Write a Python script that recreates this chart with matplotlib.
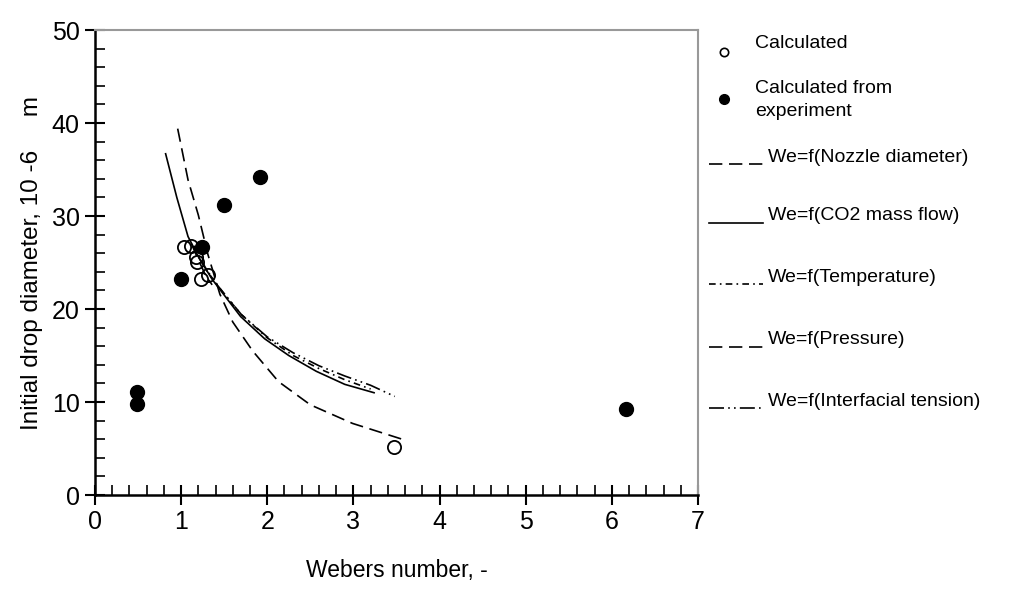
import matplotlib
matplotlib.use("Agg")
import matplotlib.pyplot as plt
from matplotlib.lines import Line2D
from matplotlib.ticker import MultipleLocator

plt.rcParams['font.family'] = ['Liberation Sans', 'DejaVu Sans']

# ---- data ----
calc_x = [1.03, 1.12, 1.17, 1.19, 1.23, 1.31, 3.47]
calc_y = [26.7, 26.8, 25.6, 25.1, 23.2, 23.7, 5.2]

exp_x = [0.49, 0.49, 1.0, 1.24, 1.5, 1.91, 6.17]
exp_y = [11.1, 9.8, 23.2, 26.7, 31.2, 34.2, 9.2]

nozzle_x = [0.96, 1.08, 1.2, 1.31, 1.45, 1.6, 1.83, 2.13, 2.5, 2.99, 3.6]
nozzle_y = [39.4, 33.9, 30.1, 25.9, 21.6, 18.6, 15.5, 12.2, 9.7, 7.7, 5.9]

co2_x = [0.82, 0.95, 1.08, 1.22, 1.36, 1.5, 1.69, 1.97, 2.25, 2.57, 2.9, 3.24]
co2_y = [36.7, 32.0, 27.8, 25.3, 23.2, 21.5, 19.2, 16.8, 15.0, 13.3, 11.9, 11.0]

temp_x = [1.15, 1.3, 1.5, 1.7, 2.0, 2.3, 2.6, 2.9, 3.2]
temp_y = [26.8, 24.1, 21.6, 19.4, 16.9, 15.0, 13.6, 12.4, 11.4]

press_x = [1.12, 1.2, 1.28, 1.36]
press_y = [27.0, 25.3, 23.7, 22.6]

inter_x = [1.2, 1.4, 1.7, 2.0, 2.3, 2.6, 2.9, 3.2, 3.48]
inter_y = [25.6, 22.8, 19.4, 17.0, 15.3, 13.9, 12.8, 11.8, 10.6]

legend_labels = ["Calculated", "Calculated from\nexperiment",
                 "We=f(Nozzle diameter)", "We=f(CO2 mass flow)",
                 "We=f(Temperature)", "We=f(Pressure)",
                 "We=f(Interfacial tension)"]

# ---- styles ----
ls_nozzle = (0, (8, 4))
ls_co2 = '-'
ls_temp = (0, (4, 2.5, 1, 2.5))
ls_press = (0, (8, 4))
ls_inter = (0, (9, 2.5, 1, 2.5, 1, 2.5))
lw = 1.2

fig = plt.figure(figsize=(10.29, 5.90), dpi=100)
ax = fig.add_axes([0.0923, 0.161, 0.586, 0.788])

ax.plot(nozzle_x, nozzle_y, color='black', lw=lw, linestyle=ls_nozzle)
ax.plot(co2_x, co2_y, color='black', lw=lw, linestyle=ls_co2)
ax.plot(temp_x, temp_y, color='black', lw=lw, linestyle=ls_temp)
ax.plot(press_x, press_y, color='black', lw=lw, linestyle=ls_press)
ax.plot(inter_x, inter_y, color='black', lw=lw, linestyle=ls_inter)

ax.plot(calc_x, calc_y, linestyle='none', marker='o', markersize=9.5,
        markerfacecolor='none', markeredgecolor='black', markeredgewidth=1.3)
ax.plot(exp_x, exp_y, linestyle='none', marker='o', markersize=10,
        markerfacecolor='black', markeredgecolor='black')

ax.set_xlim(0, 7)
ax.set_ylim(0, 50)
ax.xaxis.set_major_locator(MultipleLocator(1))
ax.xaxis.set_minor_locator(MultipleLocator(0.2))
ax.yaxis.set_major_locator(MultipleLocator(10))
ax.yaxis.set_minor_locator(MultipleLocator(2))
ax.tick_params(which='major', direction='inout', length=14, width=1.5,
               labelsize=18, top=False, right=False, pad=4)
ax.tick_params(which='minor', direction='in', length=7, width=1.2,
               top=False, right=False)

for s in ['top', 'right']:
    ax.spines[s].set_color('#999999')
    ax.spines[s].set_linewidth(1.5)
for s in ['left', 'bottom']:
    ax.spines[s].set_color('black')
    ax.spines[s].set_linewidth(1.8)

ax.set_xlabel("Webers number, -", fontsize=16.5, labelpad=18)
ax.set_ylabel("Initial drop diameter, 10 -6     m", fontsize=17.5, labelpad=6)

# ---- legend (drawn in figure coordinates) ----
W, H = 1029.0, 590.0
def fx(px):
    return px / W
def fy(py):
    return 1 - py / H

fs = 14
fig.add_artist(Line2D([fx(724)], [fy(52)], marker='o', markersize=6,
                      markerfacecolor='none', markeredgecolor='black',
                      markeredgewidth=1.2, linestyle='none'))
fig.text(fx(755), fy(43), legend_labels[0], fontsize=fs, va='center')
fig.add_artist(Line2D([fx(724)], [fy(99)], marker='o', markersize=7,
                      markerfacecolor='black', markeredgecolor='black',
                      linestyle='none'))
fig.text(fx(755), fy(100), legend_labels[1], fontsize=fs, va='center',
         linespacing=1.4)

line_rows = [(157, ls_nozzle), (216, ls_co2), (277, ls_temp),
             (340, ls_press), (401, ls_inter)]
for (py, ls), lab in zip(line_rows, legend_labels[2:]):
    fig.add_artist(Line2D([fx(709), fx(763)], [fy(py + 7), fy(py + 7)],
                          color='black', lw=lw, linestyle=ls))
    fig.text(fx(768), fy(py), lab, fontsize=fs, va='center')

fig.savefig("out.png", dpi=100)
